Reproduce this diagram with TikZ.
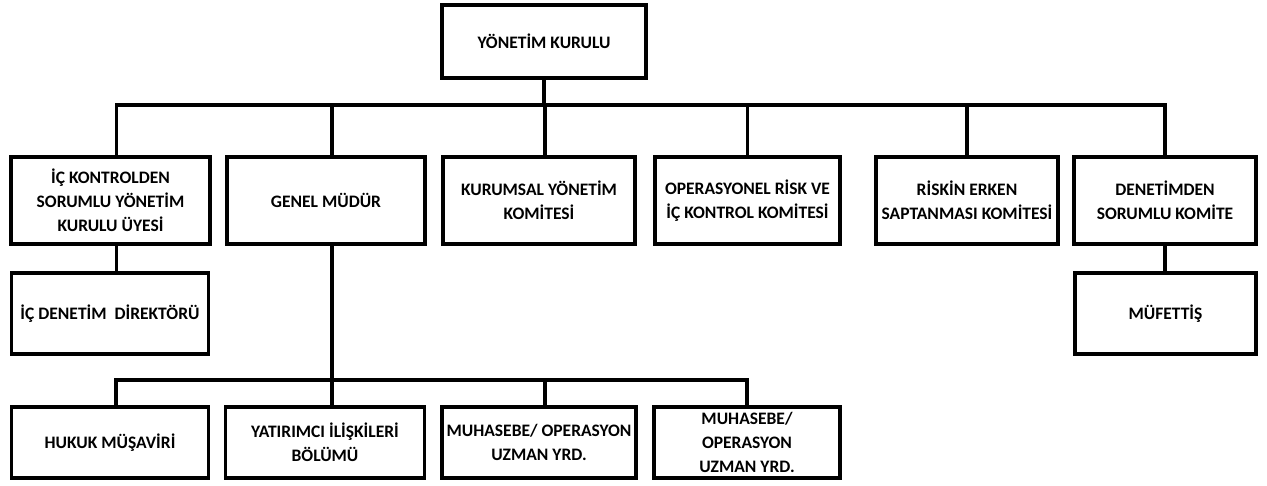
\documentclass[tikz,border=0pt]{standalone}
\usepackage{fontspec}
\setmainfont{Carlito}
\usetikzlibrary{calc}

\tikzset{
  kutu/.style={draw, line width=3.5pt, align=center, inner sep=0pt,
    font=\bfseries\fontsize{17.5}{24}\selectfont},
  hat/.style={line width=3.3pt},
}

\begin{document}
\begin{tikzpicture}[x=1pt, y=-1pt]
    \useasboundingbox (0,0) rectangle (1267,485);

    % Yonetim kurulu
    \node[kutu, minimum width=204, minimum height=73] (yk) at (544,41.5) {YÖNETİM KURULU};

    % Birinci sira
    \node[kutu, minimum width=199, minimum height=87] (k1) at (110.5,200.5) {İÇ KONTROLDEN\\SORUMLU YÖNETİM\\KURULU ÜYESİ};
    \node[kutu, minimum width=198, minimum height=87] (k2) at (326,200.5) {GENEL MÜDÜR};
    \node[kutu, minimum width=192, minimum height=87] (k3) at (539,200.5) {KURUMSAL YÖNETİM\\KOMİTESİ};
    \node[kutu, minimum width=185, minimum height=87] (k4) at (747.5,200.5) {OPERASYONEL RİSK VE\\İÇ KONTROL KOMİTESİ};
    \node[kutu, minimum width=182, minimum height=87] (k5) at (967,200.5) {RİSKİN ERKEN\\SAPTANMASI KOMİTESİ};
    \node[kutu, minimum width=182, minimum height=87] (k6) at (1165,200.5) {DENETİMDEN\\SORUMLU KOMİTE};

    % Ikinci sira
    \node[kutu, minimum width=197, minimum height=81] (icd) at (110,313.5) {İÇ DENETİM~ DİREKTÖRÜ};
    \node[kutu, minimum width=181, minimum height=81] (muf) at (1165.5,313.5) {MÜFETTİŞ};

    % Ucuncu sira
    \node[kutu, minimum width=197, minimum height=71] (h1) at (110,442.5) {HUKUK MÜŞAVİRİ};
    \node[kutu, minimum width=199, minimum height=71] (h2) at (325,442.5) {YATIRIMCI İLİŞKİLERİ\\BÖLÜMÜ};
    \node[kutu, minimum width=194, minimum height=71] (h3) at (539,442.5) {MUHASEBE/ OPERASYON\\UZMAN YRD.};
    \node[kutu, minimum width=186, minimum height=71] (h4) at (747,442.5) {MUHASEBE/\\OPERASYON\\UZMAN YRD.};

    % Baglantilar
    \coordinate (bus1) at (0,105);
    \coordinate (bus2) at (0,380);
    \draw[hat] (yk.south) -- (yk.south |- bus1);
    \draw[hat] ([xshift=6pt]k1.north) -- ([xshift=6pt]k1.north |- bus1) -- (k6.north |- bus1) -- (k6.north);
    \foreach \k in {k2,k3}
        \draw[hat] ([xshift=6pt]\k.north |- bus1) -- ([xshift=6pt]\k.north);
    \foreach \k in {k4,k5}
        \draw[hat] (\k.north |- bus1) -- (\k.north);

    \draw[hat] ([xshift=6pt]k1.south) -- ([xshift=6pt]k1.south |- icd.north);
    \draw[hat] (k6.south) -- (k6.south |- muf.north);

    \draw[hat] ([xshift=6pt]h1.north) -- ([xshift=6pt]h1.north |- bus2) -- (h4.north |- bus2) -- (h4.north);
    \draw[hat] ([xshift=6pt]k2.south) -- ([xshift=6pt]k2.south |- h2.north);
    \draw[hat] ([xshift=6pt]h3.north |- bus2) -- ([xshift=6pt]h3.north);
\end{tikzpicture}
\end{document}
